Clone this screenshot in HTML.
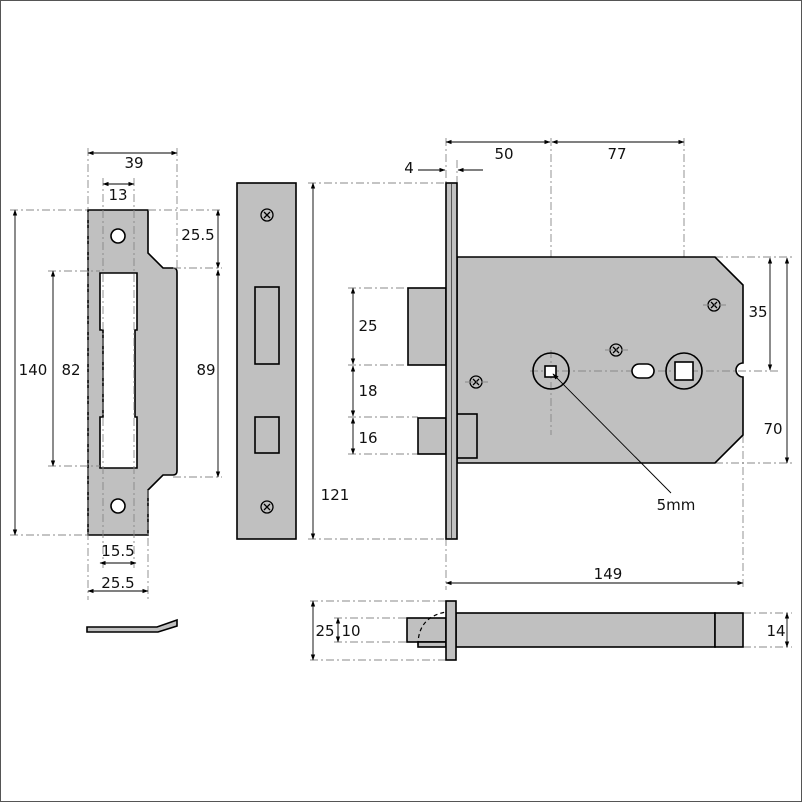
<!DOCTYPE html>
<html><head><meta charset="utf-8"><style>
html,body{margin:0;padding:0;background:#fff}
svg{display:block}
text{font-family:"DejaVu Sans","Liberation Sans",sans-serif;font-size:15px;fill:#111}
.f{fill:#c0c0c0;stroke:#000;stroke-width:1.6}
.w{fill:#fff;stroke:#000;stroke-width:1.6}
.d{stroke:#888;stroke-width:0.9;stroke-dasharray:8,3,2,3;fill:none}
.a{stroke:#000;stroke-width:0.9;fill:none;marker-start:url(#m);marker-end:url(#m)}
.a1{stroke:#000;stroke-width:0.9;fill:none;marker-end:url(#m)}
</style></head><body>
<svg width="802" height="802" viewBox="0 0 802 802" xmlns="http://www.w3.org/2000/svg">
<defs><marker id="m" viewBox="0 0 10 10" refX="9" refY="5" markerWidth="7" markerHeight="7" orient="auto-start-reverse"><path d="M0,1.5 L10,5 L0,8.5 z" fill="#000"/></marker></defs>
<rect x="0.5" y="0.5" width="801" height="801" fill="#fff" stroke="#555"/>

<!-- strike plate -->
<path class="f" d="M88,210 H148 V253 L163,268 H173 Q177,268 177,272 V471 Q177,475 173,475 H163 L148,490 V535 H88 Z"/>
<path class="w" d="M100,273 H137 V330 H135 V417 H137 V468 H100 V417 H103 V330 H100 Z"/>
<circle class="w" cx="118" cy="236" r="7"/><circle class="w" cx="118" cy="506" r="7"/>
<line class="d" x1="88" y1="148" x2="88" y2="600"/><line class="d" x1="177" y1="148" x2="177" y2="268"/>
<line class="d" x1="103" y1="178" x2="103" y2="568"/><line class="d" x1="134" y1="178" x2="134" y2="568"/>
<line class="d" x1="148" y1="490" x2="148" y2="600"/>
<line class="d" x1="10" y1="210" x2="88" y2="210"/><line class="d" x1="148" y1="210" x2="222" y2="210"/>
<line class="d" x1="10" y1="535" x2="88" y2="535"/>
<line class="d" x1="48" y1="271" x2="100" y2="271"/><line class="d" x1="48" y1="466" x2="100" y2="466"/>
<line class="d" x1="173" y1="268" x2="222" y2="268"/><line class="d" x1="173" y1="477" x2="222" y2="477"/>
<line class="a" x1="88" y1="153" x2="177" y2="153"/><text x="134" y="168" text-anchor="middle">39</text>
<line class="a" x1="103" y1="184" x2="134" y2="184"/><text x="118" y="200" text-anchor="middle">13</text>
<line class="a" x1="15" y1="210" x2="15" y2="535"/><text x="33" y="375" text-anchor="middle">140</text>
<line class="a" x1="53" y1="271" x2="53" y2="466"/><text x="71" y="375" text-anchor="middle">82</text>
<line class="a" x1="218" y1="210" x2="218" y2="268"/><text x="198" y="240" text-anchor="middle">25.5</text>
<line class="a" x1="218" y1="270" x2="218" y2="477"/><text x="206" y="375" text-anchor="middle">89</text>
<line class="a" x1="100" y1="563" x2="136" y2="563"/><text x="118" y="556" text-anchor="middle">15.5</text>
<line class="a" x1="88" y1="591" x2="148" y2="591"/><text x="118" y="588" text-anchor="middle">25.5</text>
<path class="f" d="M87,627 H157 L177,620 V626 L158,632 H87 Z"/>

<!-- faceplate -->
<rect class="f" x="237" y="183" width="59" height="356"/>
<rect class="w" x="255" y="287" width="24" height="77" fill="#c0c0c0" style="fill:#c0c0c0"/>
<rect class="f" x="255" y="417" width="24" height="36"/>
<g stroke="#000" stroke-width="1.3" fill="none">
<circle cx="267" cy="215" r="6"/><path d="M264,212 L270,218 M270,212 L264,218"/>
<circle cx="267" cy="507" r="6"/><path d="M264,504 L270,510 M270,504 L264,510"/>
</g>

<!-- lock body -->
<line class="d" x1="446" y1="138" x2="446" y2="590"/><line class="d" x1="457" y1="160" x2="457" y2="183"/>
<line class="d" x1="551" y1="138" x2="551" y2="435"/><line class="d" x1="684" y1="138" x2="684" y2="400"/>
<line class="d" x1="743" y1="435" x2="743" y2="590"/>
<line class="d" x1="308" y1="183" x2="446" y2="183"/><line class="d" x1="308" y1="539" x2="446" y2="539"/>
<line class="d" x1="348" y1="288" x2="408" y2="288"/><line class="d" x1="348" y1="365" x2="446" y2="365"/>
<line class="d" x1="348" y1="417" x2="418" y2="417"/><line class="d" x1="348" y1="454" x2="418" y2="454"/>
<line class="d" x1="715" y1="257" x2="792" y2="257"/><line class="d" x1="715" y1="463" x2="792" y2="463"/>
<path class="f" d="M457,257 H715 L743,285 V363 A7,7 0 0 0 743,377 V435 L715,463 H457 Z"/>
<line class="d" x1="530" y1="371" x2="780" y2="371"/>
<line class="d" x1="551" y1="350" x2="551" y2="435"/>
<rect class="f" x="408" y="288" width="38" height="77"/>
<rect class="f" x="418" y="418" width="28" height="36"/>
<rect class="f" x="457" y="414" width="20" height="44"/>
<rect class="f" x="446" y="183" width="11" height="356"/>
<line x1="451.5" y1="184" x2="451.5" y2="538" stroke="#555" stroke-width="1"/>
<circle cx="551" cy="371" r="18" fill="none" stroke="#000" stroke-width="1.6"/>
<rect class="w" x="545" y="366" width="11" height="11"/>
<circle cx="684" cy="371" r="18" fill="none" stroke="#000" stroke-width="1.6"/>
<rect class="w" x="675" y="362" width="18" height="18"/>
<rect class="w" x="632" y="364" width="22" height="14" rx="7"/>
<g stroke="#000" stroke-width="1.3" fill="none">
<circle cx="476" cy="382" r="6"/><path d="M473,379 L479,385 M479,379 L473,385"/>
<circle cx="616" cy="350" r="6"/><path d="M613,347 L619,353 M619,347 L613,353"/>
<circle cx="714" cy="305" r="6"/><path d="M711,302 L717,308 M717,302 L711,308"/>
</g>
<line class="d" x1="605" y1="350" x2="628" y2="350"/><line class="d" x1="465" y1="382" x2="488" y2="382"/><line class="d" x1="703" y1="305" x2="726" y2="305"/>
<line class="a1" x1="671" y1="493" x2="553" y2="374"/><text x="676" y="510" text-anchor="middle">5mm</text>
<line class="a" x1="446" y1="142" x2="550" y2="142"/><text x="504" y="159" text-anchor="middle">50</text>
<line class="a" x1="552" y1="142" x2="684" y2="142"/><text x="617" y="159" text-anchor="middle">77</text>
<line class="a1" x1="418" y1="170" x2="445" y2="170"/><line class="a1" x1="483" y1="170" x2="458" y2="170"/>
<text x="409" y="173" text-anchor="middle">4</text>
<line class="a" x1="313" y1="183" x2="313" y2="539"/><text x="335" y="500" text-anchor="middle">121</text>
<line class="a" x1="353" y1="288" x2="353" y2="364"/><text x="368" y="331" text-anchor="middle">25</text>
<line class="a" x1="353" y1="366" x2="353" y2="416"/><text x="368" y="396" text-anchor="middle">18</text>
<line class="a" x1="353" y1="418" x2="353" y2="454"/><text x="368" y="443" text-anchor="middle">16</text>
<line class="a" x1="770" y1="258" x2="770" y2="370"/><text x="758" y="317" text-anchor="middle">35</text>
<line class="a" x1="787" y1="258" x2="787" y2="463"/><text x="773" y="434" text-anchor="middle">70</text>
<line class="a" x1="446" y1="583" x2="743" y2="583"/><text x="608" y="579" text-anchor="middle">149</text>

<!-- bottom view -->
<line class="d" x1="310" y1="601" x2="446" y2="601"/><line class="d" x1="310" y1="660" x2="446" y2="660"/>
<line class="d" x1="334" y1="618" x2="407" y2="618"/><line class="d" x1="334" y1="642" x2="407" y2="642"/>
<line class="d" x1="743" y1="613" x2="792" y2="613"/><line class="d" x1="743" y1="647" x2="792" y2="647"/>
<rect class="f" x="407" y="618" width="39" height="24"/>
<rect class="f" x="418" y="642" width="28" height="5"/>
<path d="M418,645 Q418,617 446,612" fill="none" stroke="#000" stroke-width="1.2" stroke-dasharray="4,3"/>
<rect class="f" x="456" y="613" width="259" height="34"/>
<rect class="f" x="715" y="613" width="28" height="34"/>
<rect class="f" x="446" y="601" width="10" height="59"/>
<line class="a" x1="313" y1="601" x2="313" y2="660"/><text x="325" y="636" text-anchor="middle">25</text>
<line class="a" x1="338" y1="618" x2="338" y2="642"/><text x="351" y="636" text-anchor="middle">10</text>
<line class="a" x1="787" y1="613" x2="787" y2="647"/><text x="776" y="636" text-anchor="middle">14</text>
</svg>
</body></html>
